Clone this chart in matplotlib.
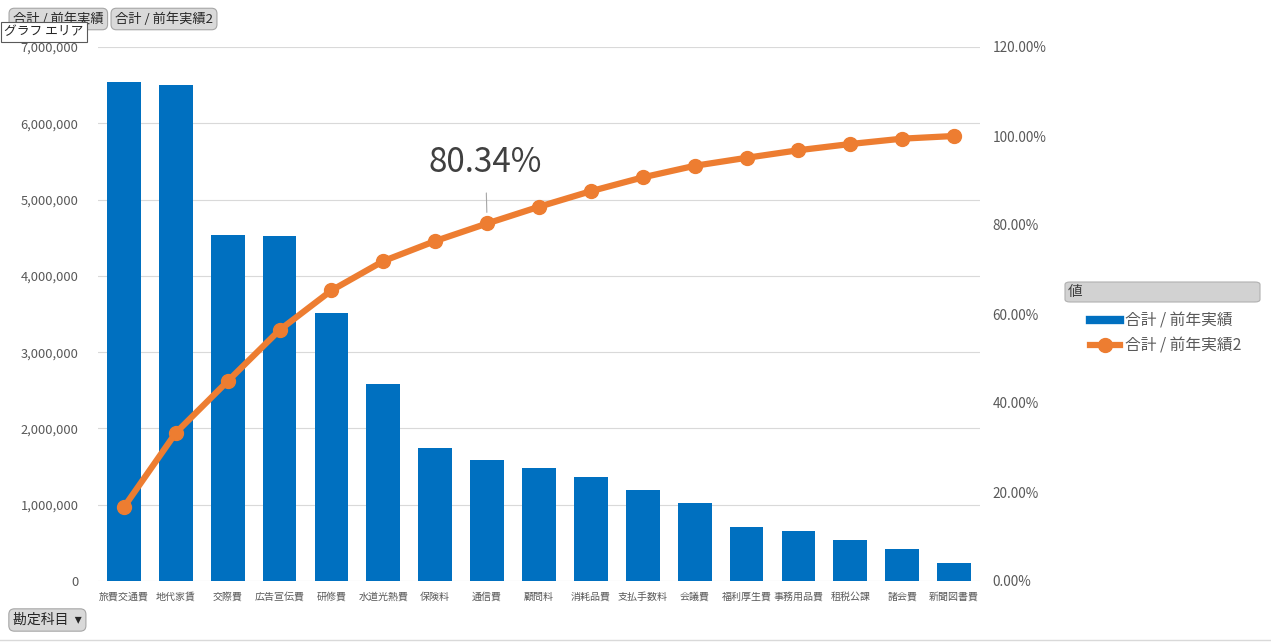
import matplotlib
matplotlib.use("Agg")
import matplotlib.pyplot as plt
from matplotlib.patches import FancyBboxPatch
from matplotlib.lines import Line2D
from matplotlib.ticker import FuncFormatter, MultipleLocator

plt.rcParams['font.family'] = ['Noto Sans CJK JP', 'DejaVu Sans']

# データ
categories = ['旅費交通費', '地代家賃', '交際費', '広告宣伝費', '研修費', '水道光熱費', '保険料',
              '通信費', '顧問料', '消耗品費', '支払手数料', '会議費', '福利厚生費', '事務用品費',
              '租税公課', '諸会費', '新聞図書費']
amounts = [6540000, 6500000, 4535000, 4520000, 3510000, 2580000, 1743000, 1586000, 1481000,
           1363000, 1193000, 1022000, 708000, 655000, 537000, 420000, 236000]
cum_pct = [16.6, 33.3, 44.9, 56.4, 65.3, 71.9, 76.4, 80.34, 84.1, 87.6, 90.7, 93.3, 95.1,
           96.8, 98.2, 99.4, 100.0]
series1 = '合計 / 前年実績'
series2 = '合計 / 前年実績2'
label_idx = 7

BLUE = '#0070C0'
ORANGE = '#ED7D31'
GRID = '#D9D9D9'
TXT = '#595959'

fig = plt.figure(figsize=(12.71, 6.42), dpi=100)
ax = fig.add_axes([98 / 1271, 1 - 581 / 642, 882 / 1271, 534 / 642])
x = range(len(categories))

ax.bar(x, amounts, width=0.65, color=BLUE, zorder=2)
ax.set_xlim(-0.5, len(categories) - 0.5)
ax.set_ylim(0, 7000000)
ax.yaxis.set_major_locator(MultipleLocator(1000000))
ax.yaxis.set_major_formatter(FuncFormatter(lambda v, p: f'{v:,.0f}'))
ax.grid(axis='y', color=GRID, linewidth=0.8, zorder=0)
for s in ax.spines.values():
    s.set_visible(False)
ax.tick_params(axis='y', length=0, pad=14, labelsize=9.3, labelcolor=TXT)
ax.set_xticks(list(x))
ax.set_xticklabels(categories)
ax.tick_params(axis='x', length=0, pad=8, labelsize=7.2, labelcolor=TXT)

# 累計比率（第2軸）
ax2 = ax.twinx()
ax2.plot(x, cum_pct, color=ORANGE, linewidth=4.5, marker='o', markersize=10,
         solid_capstyle='round', zorder=3)
ax2.set_ylim(0, 120)
ax2.yaxis.set_major_locator(MultipleLocator(20))
ax2.yaxis.set_major_formatter(FuncFormatter(lambda v, p: f'{v:.2f}%'))
for s in ax2.spines.values():
    s.set_visible(False)
ax2.tick_params(axis='y', length=0, pad=9, labelsize=9.8, labelcolor=TXT)

# データラベル
ax2.annotate(f'{cum_pct[label_idx]:.2f}%', xy=(label_idx, cum_pct[label_idx]),
             xytext=(label_idx - 0.03, cum_pct[label_idx] + 13.6), ha='center', va='center',
             fontsize=24, color='#404040',
             arrowprops=dict(arrowstyle='-', color='#A6A6A6', lw=0.8, shrinkA=7, shrinkB=8))

# 凡例
fig.patches.append(FancyBboxPatch((1065 / 1271, 1 - 302 / 642), 195 / 1271, 20 / 642,
                                  boxstyle='round,pad=0,rounding_size=0.004',
                                  transform=fig.transFigure, facecolor='#D2D2D2',
                                  edgecolor='#B0B0B0', linewidth=0.8))
fig.text(1068 / 1271, 1 - 292 / 642, '値', fontsize=10.5, color='#404040', va='center')
handles = [Line2D([], [], color=BLUE, linewidth=6),
           Line2D([], [], color=ORANGE, linewidth=4.5, marker='o', markersize=10)]
fig.legend(handles, [series1, series2], loc='upper left',
           bbox_to_anchor=(1076 / 1271, 1 - 298 / 642), frameon=False, fontsize=11.3,
           labelcolor=TXT, handlelength=1.9, handletextpad=0.3, labelspacing=0.55)

# フィールドボタン
btn = dict(boxstyle='round,pad=0.3,rounding_size=0.4', facecolor='#D9D9D9',
           edgecolor='#A6A6A6', linewidth=0.8)
fig.text(13 / 1271, 1 - 19 / 642, series1, fontsize=9.5, color='#262626', va='center', bbox=btn)
fig.text(115 / 1271, 1 - 19 / 642, series2, fontsize=9.5, color='#262626', va='center', bbox=btn)
fig.text(4 / 1271, 1 - 32 / 642, 'グラフ エリア', fontsize=9.2, color='#262626', va='center',
         bbox=dict(boxstyle='square,pad=0.25', facecolor='white', edgecolor='#595959',
                   linewidth=0.8))
fig.text(13 / 1271, 1 - 620 / 642, '勘定科目  ▾', fontsize=10, color='#262626', va='center',
         bbox=btn)
fig.add_artist(Line2D([0, 1], [1 - 640 / 642] * 2, color=GRID, linewidth=1,
                      transform=fig.transFigure))

fig.savefig('out.png', dpi=100, facecolor='white')
